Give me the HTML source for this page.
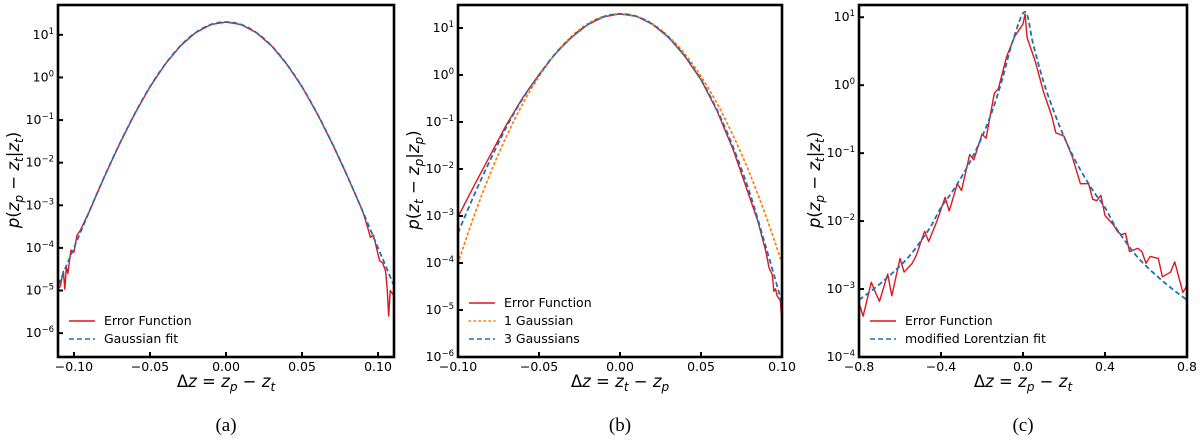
<!DOCTYPE html>
<html><head><meta charset="utf-8"><style>
body{margin:0;background:#fff;}
svg{display:block;}
text{font-family:"DejaVu Sans","Liberation Sans",sans-serif;}
.cap{font-family:"Liberation Serif",serif;font-size:19px;}
</style></head><body>
<svg id="fig" width="1200" height="440" viewBox="0 0 1200 440" xmlns="http://www.w3.org/2000/svg"></svg>
<script>
// ---- Panel (a) data ----
const aFitX=[-0.11,-0.105,-0.10,-0.09,-0.08,-0.07,-0.06,-0.05,-0.04,-0.03,-0.02,-0.01,0,0.01,0.02,0.03,0.04,0.05,0.06,0.07,0.08,0.09,0.10,0.105,0.11];
const aFitY=[-4.85,-4.42,-4.0,-3.15,-2.33,-1.56,-0.85,-0.22,0.31,0.74,1.05,1.24,1.3,1.24,1.05,0.74,0.31,-0.22,-0.85,-1.56,-2.33,-3.15,-4.0,-4.42,-4.85];
const aErrX=[-0.11,-0.109,-0.107,-0.106,-0.105,-0.104,-0.102,-0.100,-0.098,-0.096,-0.09,-0.08,-0.07,-0.06,-0.05,-0.04,-0.03,-0.02,-0.01,0,0.01,0.02,0.03,0.04,0.05,0.06,0.07,0.08,0.09,0.093,0.095,0.097,0.099,0.101,0.103,0.105,0.106,0.107,0.108,0.109,0.11];
const aErrY=[-4.95,-4.9,-4.55,-4.97,-4.45,-4.6,-4.05,-4.1,-3.7,-3.6,-3.15,-2.33,-1.56,-0.85,-0.22,0.31,0.74,1.05,1.24,1.3,1.24,1.05,0.74,0.31,-0.22,-0.85,-1.56,-2.33,-3.15,-3.5,-3.75,-3.7,-4.0,-4.3,-4.35,-4.55,-4.95,-5.6,-5.0,-5.05,-5.1];
// ---- Panel (b) data ----
const bX=[-0.10,-0.09,-0.08,-0.07,-0.06,-0.05,-0.04,-0.03,-0.02,-0.01,0,0.01,0.02,0.03,0.04,0.05,0.06,0.07,0.08,0.09,0.10];
const b1G=[-4.0,-2.99,-2.09,-1.3,-0.61,-0.03,0.45,0.82,1.09,1.25,1.3,1.25,1.09,0.82,0.45,-0.03,-0.61,-1.3,-2.09,-2.99,-4.0];
const b3G=[-3.36,-2.55,-1.8,-1.1,-0.5,0.0,0.45,0.8,1.07,1.24,1.3,1.25,1.08,0.8,0.4,-0.1,-0.75,-1.55,-2.5,-3.65,-4.85];
const bErrX=[-0.10,-0.09,-0.08,-0.07,-0.06,-0.05,-0.04,-0.03,-0.02,-0.01,0,0.01,0.02,0.03,0.04,0.05,0.06,0.07,0.08,0.085,0.09,0.092,0.094,0.095,0.096,0.097,0.098,0.099,0.10];
const bErrY=[-3.02,-2.35,-1.7,-1.05,-0.48,0.01,0.45,0.8,1.07,1.24,1.3,1.25,1.08,0.8,0.4,-0.1,-0.77,-1.6,-2.6,-3.1,-3.75,-4.1,-4.25,-4.6,-4.55,-4.7,-4.75,-4.8,-5.3];
// ---- Panel (c) data ----
const cFitX=[-0.8,-0.75,-0.7,-0.65,-0.6,-0.55,-0.5,-0.45,-0.4,-0.35,-0.3,-0.25,-0.2,-0.15,-0.1,-0.05,0.01,0.05,0.1,0.15,0.2,0.25,0.3,0.35,0.4,0.45,0.5,0.55,0.6,0.65,0.7,0.75,0.8];
const cFitY=[-3.16,-3.05,-2.93,-2.8,-2.66,-2.5,-2.3,-2.08,-1.8,-1.59,-1.35,-1.08,-0.76,-0.38,0.1,0.65,1.08,0.6,0.05,-0.38,-0.76,-1.08,-1.35,-1.59,-1.8,-2.08,-2.3,-2.5,-2.66,-2.8,-2.93,-3.05,-3.16];
const cErrX=[-0.8,-0.78,-0.74,-0.72,-0.70,-0.66,-0.64,-0.60,-0.58,-0.54,-0.52,-0.48,-0.46,-0.42,-0.38,-0.36,-0.32,-0.30,-0.26,-0.24,-0.20,-0.18,-0.14,-0.12,-0.08,-0.04,0,0.01,0.02,0.06,0.10,0.14,0.16,0.20,0.24,0.28,0.32,0.34,0.36,0.38,0.40,0.44,0.46,0.48,0.50,0.52,0.56,0.58,0.60,0.62,0.66,0.68,0.72,0.74,0.78,0.8];
const cErrY=[-3.2,-3.4,-2.9,-3.05,-3.18,-2.78,-3.1,-2.55,-2.75,-2.62,-2.5,-2.15,-2.3,-2.0,-1.65,-1.85,-1.45,-1.55,-1.02,-1.1,-0.72,-0.78,-0.12,-0.05,0.42,0.72,0.9,1.05,0.7,0.35,-0.1,-0.45,-0.7,-0.75,-1.05,-1.45,-1.45,-1.68,-1.7,-1.62,-1.92,-2.05,-2.15,-2.2,-2.18,-2.45,-2.4,-2.45,-2.62,-2.52,-2.55,-2.82,-2.75,-2.6,-3.05,-2.95];

const NS='http://www.w3.org/2000/svg';
const svg=document.getElementById('fig');
function mk(tag,attrs,parent){const e=document.createElementNS(NS,tag);for(const k in attrs)e.setAttribute(k,attrs[k]);(parent||svg).appendChild(e);return e;}
function pathD(P,smooth){
  if(!smooth||P.length<3)return P.map((p,i)=>(i?'L':'M')+p[0].toFixed(2)+','+p[1].toFixed(2)).join('');
  let d='M'+P[0][0].toFixed(2)+','+P[0][1].toFixed(2);
  for(let i=0;i<P.length-1;i++){
    const p0=P[Math.max(0,i-1)],p1=P[i],p2=P[i+1],p3=P[Math.min(P.length-1,i+2)];
    const c1x=p1[0]+(p2[0]-p0[0])/6,c1y=p1[1]+(p2[1]-p0[1])/6;
    const c2x=p2[0]-(p3[0]-p1[0])/6,c2y=p2[1]-(p3[1]-p1[1])/6;
    d+='C'+c1x.toFixed(2)+','+c1y.toFixed(2)+' '+c2x.toFixed(2)+','+c2y.toFixed(2)+' '+p2[0].toFixed(2)+','+p2[1].toFixed(2);
  }
  return d;
}
function buildLabel(tx,parts){
  let down=false;
  parts.forEach(p=>{
    const t=mk('tspan',{},tx);
    if(p[1]==='s'){t.setAttribute('font-style','italic');t.setAttribute('font-size','12');t.setAttribute('dy',down?0:4);down=true;}
    else{ if(p[1]==='i')t.setAttribute('font-style','italic'); if(down){t.setAttribute('dy',-4);down=false;} }
    t.textContent=p[0];
  });
}

function panel(o){
  const g=mk('g',{});
  
  
  const sx=v=>o.x0+(v-o.xmin)/(o.xmax-o.xmin)*(o.x1-o.x0);
  const sy=v=>o.y0+(o.ymax-v)/(o.ymax-o.ymin)*(o.y1-o.y0);
  const clip='clip-'+o.id;
  const cp=mk('clipPath',{id:clip},g);
  mk('rect',{x:o.x0,y:o.y0,width:o.x1-o.x0,height:o.y1-o.y0},cp);
  const plot=mk('g',{'clip-path':'url(#'+clip+')'},g);
  o.series.forEach(s=>{
    const P=s.xs.map((x,i)=>[sx(x),sy(s.ys[i])]);
    const p=mk('path',{d:pathD(P,s.smooth),fill:'none',stroke:s.color,'stroke-width':s.w||1.6,'stroke-dasharray':s.dash||'none','stroke-linecap':s.cap||'butt','stroke-linejoin':'round'},plot);
    
    
  });
  const fr=mk('rect',{x:o.x0,y:o.y0,width:o.x1-o.x0,height:o.y1-o.y0,fill:'none',stroke:'#000','stroke-width':2.6},g);
  
  
  o.xticks.forEach((t,i)=>{
    const X=sx(t);
    mk('line',{x1:X,x2:X,y1:o.y1,y2:o.y1-5,stroke:'#000','stroke-width':2},g);
    const tx=mk('text',{x:X,y:o.y1+14,'text-anchor':'middle','font-size':12.5},g);
    tx.textContent=o.xlabels[i];
    
    
  });
  o.yticks.forEach(t=>{
    const Y=sy(t);
    mk('line',{x1:o.x0,x2:o.x0+5,y1:Y,y2:Y,stroke:'#000','stroke-width':2},g);
    const tx=mk('text',{x:o.x0-4,y:Y+4,'text-anchor':'end','font-size':12.5},g);
    
    
    const a=mk('tspan',{},tx);a.textContent='10';
    const b=mk('tspan',{dy:-5,'font-size':8.5},tx);b.textContent=(t<0?'\u2212':'')+Math.abs(t);
  });
  const xl=mk('text',{x:(o.x0+o.x1)/2,y:387,'text-anchor':'middle','font-size':16.5},g);
  
  
  buildLabel(xl,o.xtitle);
  const yl=mk('text',{x:0,y:0,'text-anchor':'middle','font-size':16.5,transform:'translate('+(o.x0-39)+',180) rotate(-90)'},g);
  
  
  buildLabel(yl,o.ytitle);
  const lg=mk('g',{},g);
  
  
  o.legend.forEach((e,i)=>{
    const yy=343-(o.legend.length-1-i)*18;
    const it=mk('g',{},lg);
    
    
    mk('line',{x1:o.x0+11,x2:o.x0+37,y1:yy-4,y2:yy-4,stroke:e.color,'stroke-width':1.6,'stroke-dasharray':e.dash||'none','stroke-linecap':e.cap||'butt'},it);
    const tx=mk('text',{x:o.x0+46,y:yy,'font-size':12.5},it);
    tx.textContent=e.label;
  });
  const c=mk('text',{x:(o.x0+o.x1)/2,y:431,'text-anchor':'middle',class:'cap'},g);
  c.textContent=o.caption;
  
  
}
const RED='#e0151b',BLUE='#1f6fb4',ORANGE='#ff7f0e';
panel({id:'a',name:'panel-a',x0:58,x1:394,y0:5,y1:357,xmin:-0.1105,xmax:0.1105,ymin:-6.56,ymax:1.7,
  xticks:[-0.1,-0.05,0,0.05,0.1],xlabels:['\u22120.10','\u22120.05','0.00','0.05','0.10'],yticks:[1,0,-1,-2,-3,-4,-5,-6],
  series:[{name:'error-function-line',xs:aErrX,ys:aErrY,color:RED,w:1.4},{name:'gaussian-fit-line',xs:aFitX,ys:aFitY,color:BLUE,dash:'5,3',w:1.8,smooth:true}],
  legend:[{label:'Error Function',color:RED},{label:'Gaussian fit',color:BLUE,dash:'5,3'}],
  xtitle:[['\u0394','n'],['z','i'],[' = ','n'],['z','i'],['p','s'],[' \u2212 ','n'],['z','i'],['t','s']],
  ytitle:[['p','i'],['(','n'],['z','i'],['p','s'],[' \u2212 ','n'],['z','i'],['t','s'],['|','n'],['z','i'],['t','s'],[')','n']],caption:'(a)'});
panel({id:'b',name:'panel-b',x0:458,x1:782,y0:5,y1:357,xmin:-0.1,xmax:0.1,ymin:-6,ymax:1.49,
  xticks:[-0.1,-0.05,0,0.05,0.1],xlabels:['\u22120.10','\u22120.05','0.00','0.05','0.10'],yticks:[1,0,-1,-2,-3,-4,-5,-6],
  series:[{name:'error-function-line',xs:bErrX,ys:bErrY,color:RED,w:1.4},{name:'one-gaussian-line',xs:bX,ys:b1G,color:ORANGE,dash:'1.5,3.5',cap:'round',w:1.8,smooth:true},{name:'three-gaussians-line',xs:bX,ys:b3G,color:BLUE,dash:'5,3',w:1.8,smooth:true}],
  legend:[{label:'Error Function',color:RED},{label:'1 Gaussian',color:ORANGE,dash:'1.5,3.5',cap:'round'},{label:'3 Gaussians',color:BLUE,dash:'5,3'}],
  xtitle:[['\u0394','n'],['z','i'],[' = ','n'],['z','i'],['t','s'],[' \u2212 ','n'],['z','i'],['p','s']],
  ytitle:[['p','i'],['(','n'],['z','i'],['t','s'],[' \u2212 ','n'],['z','i'],['p','s'],['|','n'],['z','i'],['p','s'],[')','n']],caption:'(b)'});
panel({id:'c',name:'panel-c',x0:859,x1:1187,y0:5,y1:357,xmin:-0.8,xmax:0.8,ymin:-4,ymax:1.18,
  xticks:[-0.8,-0.4,0,0.4,0.8],xlabels:['\u22120.8','\u22120.4','0.0','0.4','0.8'],yticks:[1,0,-1,-2,-3,-4],
  series:[{name:'error-function-line',xs:cErrX,ys:cErrY,color:RED,w:1.4},{name:'modified-lorentzian-fit-line',xs:cFitX,ys:cFitY,color:BLUE,dash:'5,3',w:1.8,smooth:true}],
  legend:[{label:'Error Function',color:RED},{label:'modified Lorentzian fit',color:BLUE,dash:'5,3'}],
  xtitle:[['\u0394','n'],['z','i'],[' = ','n'],['z','i'],['p','s'],[' \u2212 ','n'],['z','i'],['t','s']],
  ytitle:[['p','i'],['(','n'],['z','i'],['p','s'],[' \u2212 ','n'],['z','i'],['t','s'],['|','n'],['z','i'],['t','s'],[')','n']],caption:'(c)'});
</script>
</body></html>
